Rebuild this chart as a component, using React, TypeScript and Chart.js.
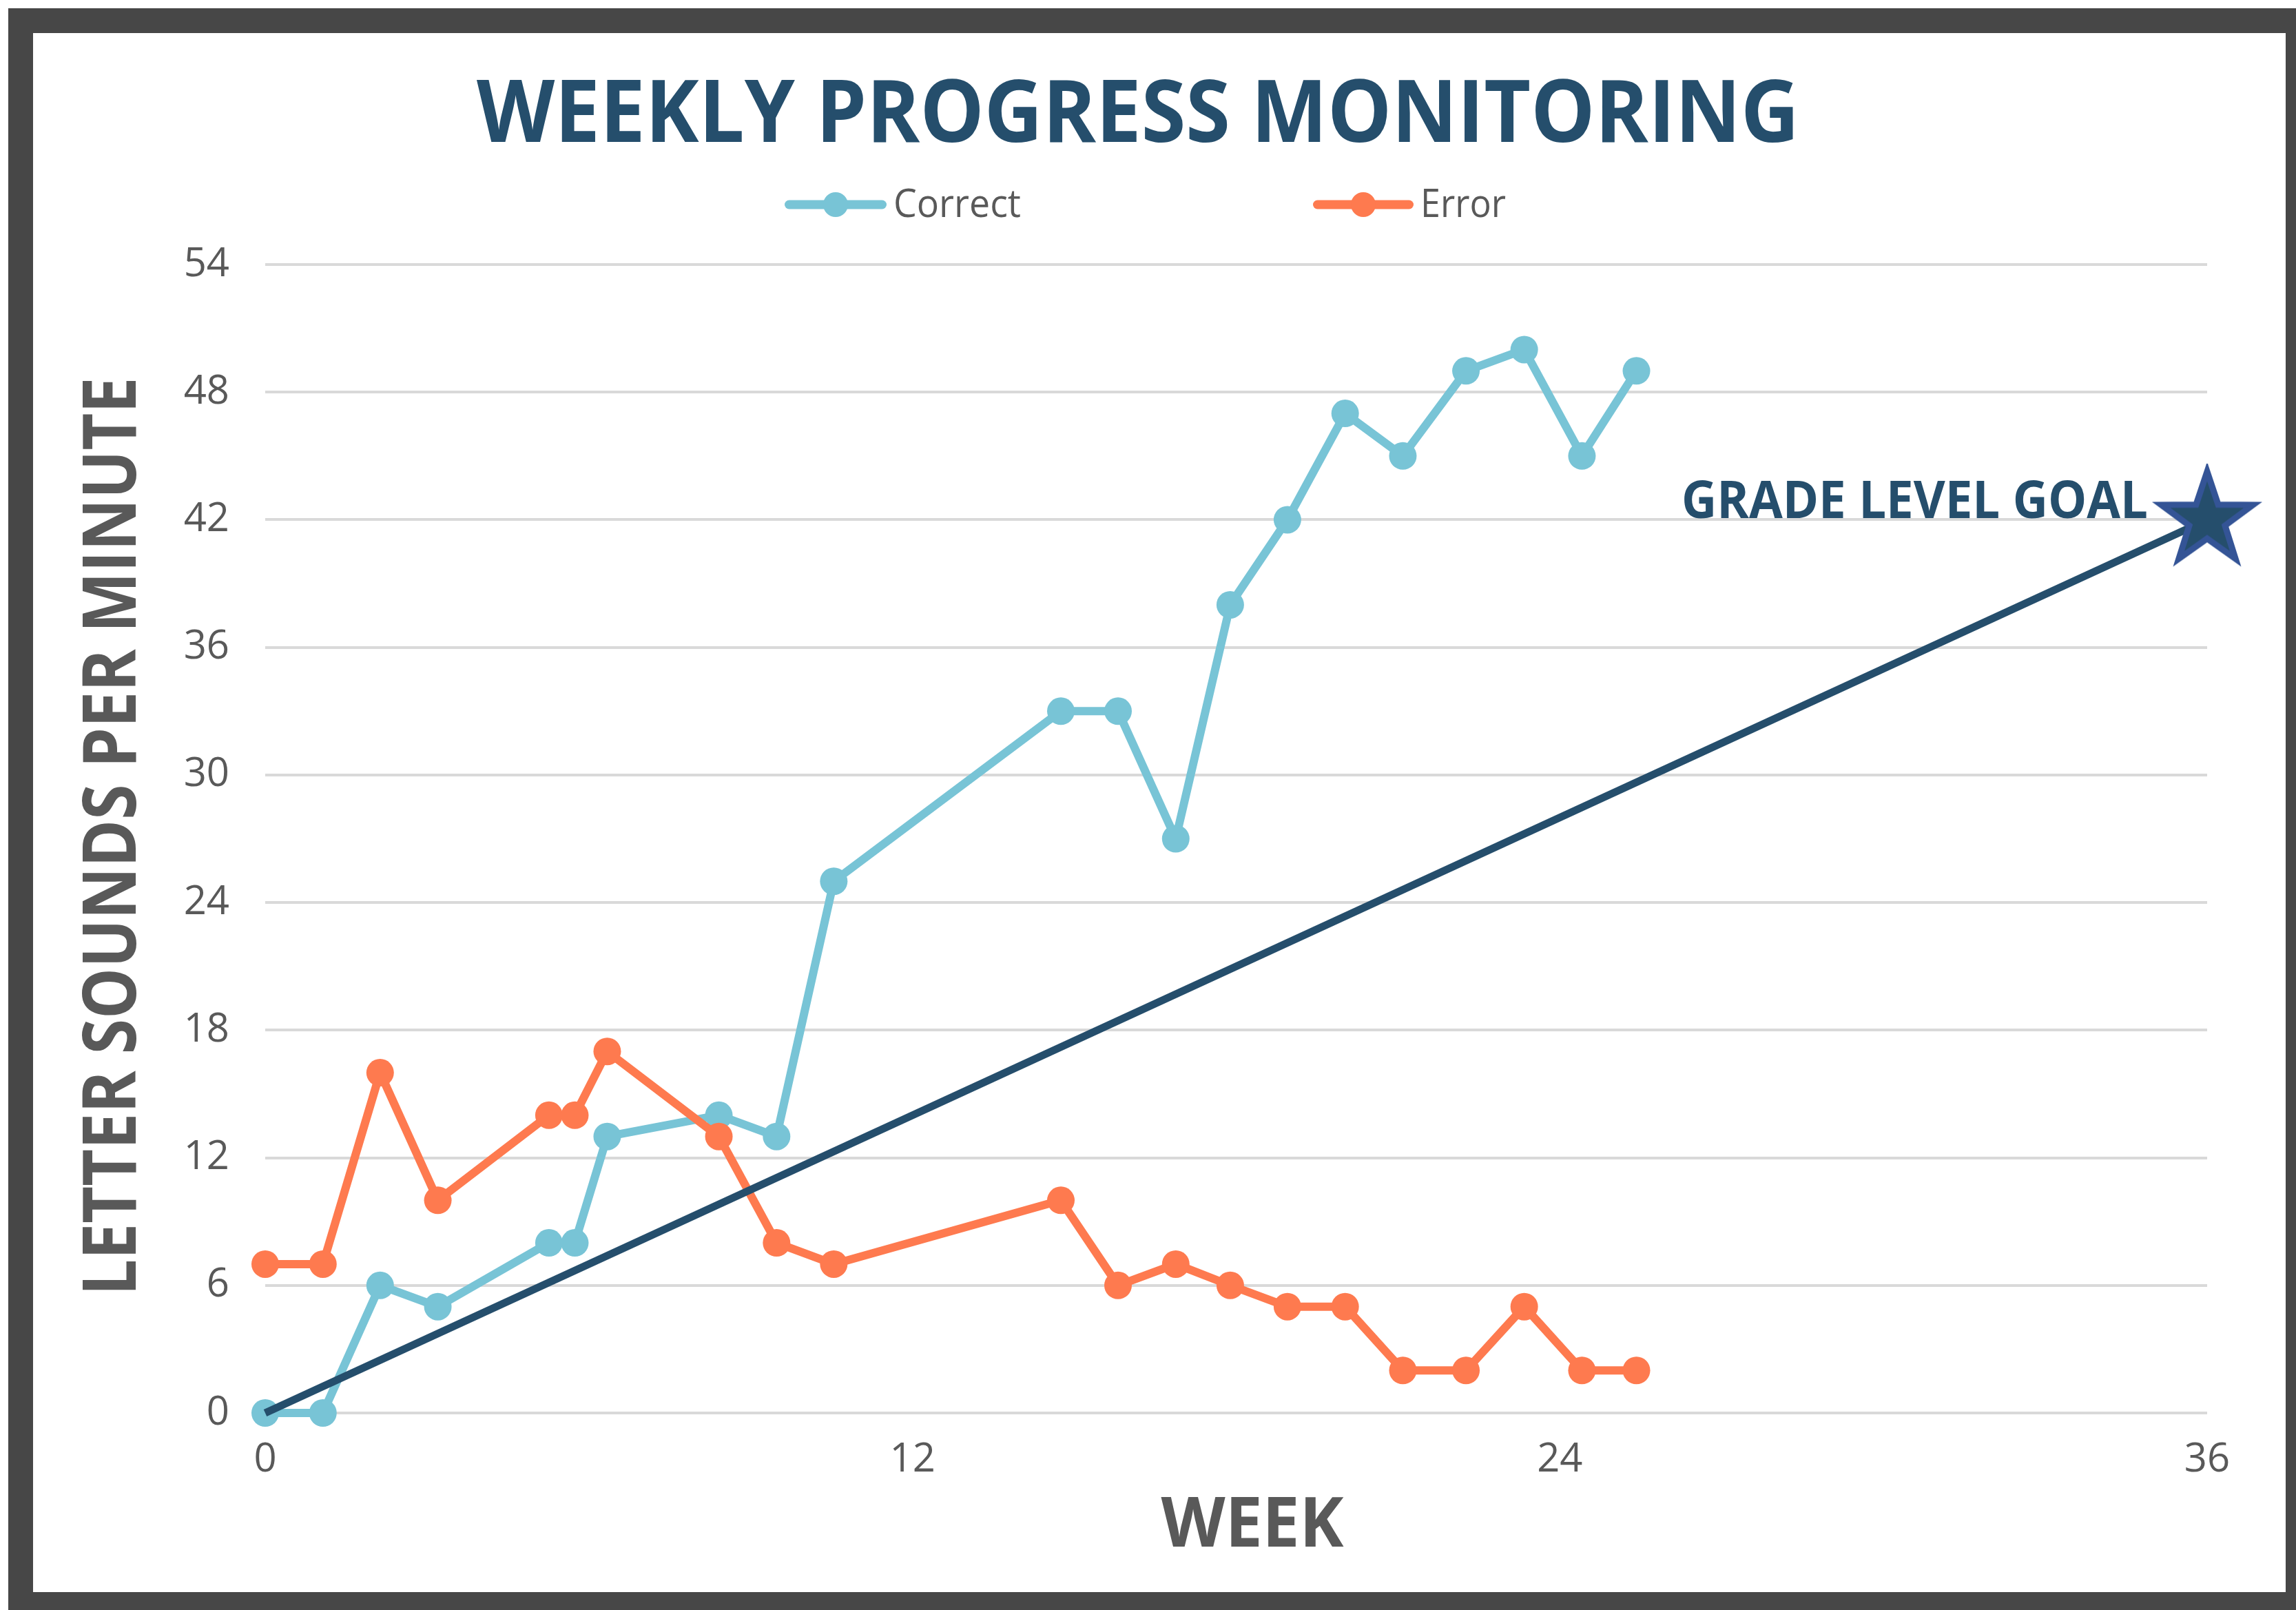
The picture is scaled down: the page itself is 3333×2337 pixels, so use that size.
import React, { useEffect, useRef } from "react";
import { Chart, registerables } from "chart.js";

Chart.register(...registerables);

// ---- data ----
const weeks = [0, 1.07, 2.13, 3.2, 5.26, 5.74, 6.34, 8.41, 9.48, 10.54, 14.75, 15.81, 16.88, 17.89, 18.95, 20.02, 21.09, 22.26, 23.34, 24.41, 25.42];
const correctValues = [0, 0, 6, 5, 8, 8, 13, 14, 13, 25, 33, 33, 27, 38, 42, 47, 45, 49, 50, 45, 49];
const errorValues = [7, 7, 16, 10, 14, 14, 17, 13, 8, 7, 10, 6, 7, 6, 5, 5, 2, 2, 5, 2, 2];
const goalWeeks = [0, 36];
const goalValues = [0, 42];
const xTicks = [0, 12, 24, 36];
const yTicks = [0, 6, 12, 18, 24, 30, 36, 42, 48, 54];
const seriesLabels = ["Correct", "Error"];
const titleText = "WEEKLY PROGRESS MONITORING";
const xTitle = "WEEK";
const yTitle = "LETTER SOUNDS PER MINUTE";
const goalLabel = "GRADE LEVEL GOAL";

const COLOR_CORRECT = "#78c4d6";
const COLOR_ERROR = "#fe7a4f";
const COLOR_NAVY = "#254e6c";
const COLOR_STAR_EDGE = "#345496";
const COLOR_TEXT = "#595959";

function makeStar(R: number, fill: string, stroke: string, lw: number) {
  const c = document.createElement("canvas");
  const size = Math.ceil(2 * R + lw * 2 + 4);
  c.width = size;
  c.height = size;
  const g = c.getContext("2d")!;
  const cx = size / 2;
  const cy = size / 2;
  g.beginPath();
  for (let i = 0; i < 10; i++) {
    const r = i % 2 === 0 ? R : R * 0.39;
    const a = -Math.PI / 2 + (i * Math.PI) / 5;
    g.lineTo(cx + r * Math.cos(a), cy + r * Math.sin(a));
  }
  g.closePath();
  g.fillStyle = fill;
  g.fill();
  g.lineWidth = lw;
  g.strokeStyle = stroke;
  g.lineJoin = "miter";
  g.miterLimit = 10;
  g.stroke();
  return c;
}

function drawFit(
  ctx: CanvasRenderingContext2D,
  text: string,
  x: number,
  baseline: number,
  font: string,
  color: string,
  targetWidth: number,
  align: "center" | "left" | "right"
) {
  ctx.save();
  ctx.font = font;
  ctx.fillStyle = color;
  ctx.textBaseline = "alphabetic";
  ctx.textAlign = "left";
  const w = ctx.measureText(text).width;
  const sx = targetWidth / w;
  let left = x;
  if (align === "center") left = x - targetWidth / 2;
  if (align === "right") left = x - targetWidth;
  ctx.translate(left, baseline);
  ctx.scale(sx, 1);
  ctx.fillText(text, 0, 0);
  ctx.restore();
}

const decorPlugin = {
  id: "decor",
  afterDraw(chart: any) {
    const ctx: CanvasRenderingContext2D = chart.ctx;
    // Title
    drawFit(ctx, titleText, 1652, 206, 'bold 125px "Open Sans"', COLOR_NAVY, 1920, "center");

    // Legend
    const legendItems = [
      { label: seriesLabels[0], color: COLOR_CORRECT, x0: 1139, x1: 1287, tx: 1297, tw: 185 },
      { label: seriesLabels[1], color: COLOR_ERROR, x0: 1906, x1: 2052, tx: 2062, tw: 124 },
    ];
    const ly = 297;
    legendItems.forEach((it) => {
      ctx.save();
      ctx.strokeStyle = it.color;
      ctx.lineWidth = 13;
      ctx.lineCap = "round";
      ctx.beginPath();
      ctx.moveTo(it.x0 + 6.5, ly);
      ctx.lineTo(it.x1 - 6.5, ly);
      ctx.stroke();
      ctx.fillStyle = it.color;
      ctx.beginPath();
      ctx.arc((it.x0 + it.x1) / 2, ly, 18, 0, Math.PI * 2);
      ctx.fill();
      ctx.restore();
      drawFit(ctx, it.label, it.tx, 315, '56px "Open Sans"', COLOR_TEXT, it.tw, "left");
    });

    // X axis title
    drawFit(ctx, xTitle, 1818, 2245, 'bold 101px "Open Sans"', COLOR_TEXT, 265, "center");

    // Y axis title (rotated)
    ctx.save();
    ctx.translate(197, 1214);
    ctx.rotate(-Math.PI / 2);
    drawFit(ctx, yTitle, 0, 0, 'bold 108px "Open Sans"', COLOR_TEXT, 1333, "center");
    ctx.restore();

    // Goal label next to the star
    const gx = chart.scales.x.getPixelForValue(goalWeeks[1]);
    const gy = chart.scales.y.getPixelForValue(goalValues[1]);
    drawFit(ctx, goalLabel, gx - 86, gy - 2, 'bold 76px "Open Sans"', COLOR_NAVY, 677, "right");
  },
};

export default function App() {
  const ref = useRef<HTMLCanvasElement>(null);

  useEffect(() => {
    const canvas = ref.current!;
    const star = makeStar(70, COLOR_NAVY, COLOR_STAR_EDGE, 9);
    const chart = new Chart(canvas, {
      type: "scatter",
      data: {
        datasets: [
          {
            label: "Goal",
            data: goalWeeks.map((w, i) => ({ x: w, y: goalValues[i] })),
            showLine: true,
            borderColor: COLOR_NAVY,
            backgroundColor: COLOR_NAVY,
            borderWidth: 11,
            pointRadius: [0, 20],
            pointStyle: star as any,
            clip: false as any,
            order: 0,
          },
          {
            label: seriesLabels[1],
            data: weeks.map((w, i) => ({ x: w, y: errorValues[i] })),
            showLine: true,
            borderColor: COLOR_ERROR,
            backgroundColor: COLOR_ERROR,
            borderWidth: 12,
            borderJoinStyle: "round",
            pointRadius: 20,
            pointBackgroundColor: COLOR_ERROR,
            pointBorderColor: COLOR_ERROR,
            pointBorderWidth: 0,
            clip: false as any,
            order: 1,
          },
          {
            label: seriesLabels[0],
            data: weeks.map((w, i) => ({ x: w, y: correctValues[i] })),
            showLine: true,
            borderColor: COLOR_CORRECT,
            backgroundColor: COLOR_CORRECT,
            borderWidth: 12,
            borderJoinStyle: "round",
            pointRadius: 20,
            pointBackgroundColor: COLOR_CORRECT,
            pointBorderColor: COLOR_CORRECT,
            pointBorderWidth: 0,
            clip: false as any,
            order: 2,
          },
        ],
      },
      options: {
        animation: false,
        responsive: false,
        maintainAspectRatio: false,
        devicePixelRatio: 1,
        events: [],
        layout: { padding: { top: 384, right: 129, left: 0, bottom: 0 } },
        plugins: {
          legend: { display: false },
          title: { display: false },
          tooltip: { enabled: false },
        },
        scales: {
          x: {
            type: "linear",
            min: 0,
            max: 36,
            afterBuildTicks: (s: any) => {
              s.ticks = xTicks.map((v) => ({ value: v }));
            },
            afterFit: (s: any) => {
              s.height = 286;
            },
            grid: { display: false, drawTicks: false },
            border: { display: false },
            ticks: {
              padding: 34,
              color: COLOR_TEXT,
              font: { family: '"Open Sans"', size: 58 },
              maxRotation: 0,
              autoSkip: false,
            },
          },
          y: {
            type: "linear",
            min: 0,
            max: 54,
            afterBuildTicks: (s: any) => {
              s.ticks = yTicks.map((v) => ({ value: v }));
            },
            afterFit: (s: any) => {
              s.width = 385;
            },
            grid: { color: "#d9d9d9", lineWidth: 4, drawTicks: false },
            border: { display: false },
            ticks: {
              padding: 52,
              color: COLOR_TEXT,
              font: { family: '"Open Sans"', size: 58 },
              autoSkip: false,
            },
          },
        },
      },
      plugins: [decorPlugin],
    } as any);
    return () => chart.destroy();
  }, []);

  return (
    <div style={{ position: "fixed", left: 0, top: 0, width: 3333, height: 2337, background: "#ffffff", overflow: "hidden" }}>
      <div style={{ position: "absolute", left: 12, top: 12, right: 0, bottom: 0, background: "#474747" }} />
      <div style={{ position: "absolute", left: 48, top: 48, width: 3318 - 48, height: 2311 - 48, background: "#ffffff" }} />
      <canvas
        ref={ref}
        width={3333}
        height={2337}
        style={{ position: "absolute", left: 0, top: 0, width: 3333, height: 2337 }}
      />
    </div>
  );
}
